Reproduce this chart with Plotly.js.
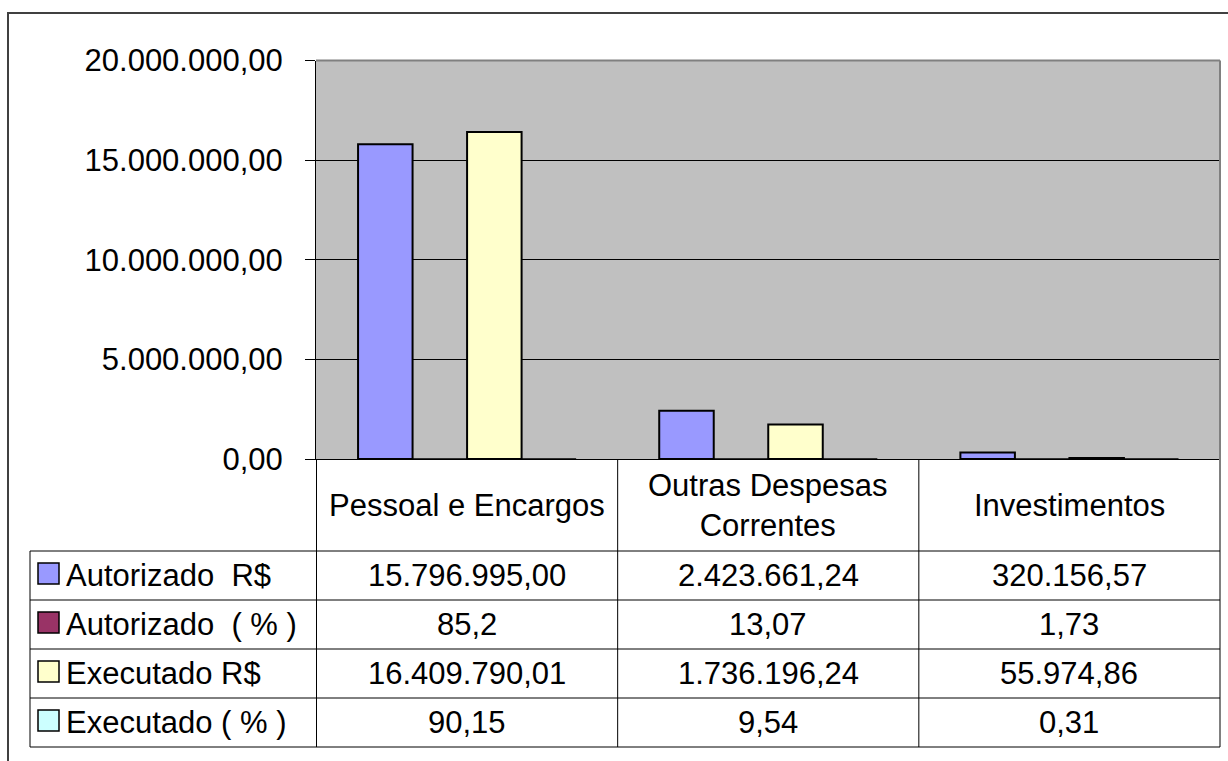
<!DOCTYPE html>
<html><head><meta charset="utf-8">
<script src="https://cdn.plot.ly/plotly-3.0.1.min.js"></script>
<style>html,body{margin:0;padding:0;background:#fff;overflow:hidden}</style>
</head><body><div id="chart" style="width:1228px;height:761px"></div>
<script>
// ---- data ----
const categories = ['Pessoal e Encargos', 'Outras Despesas Correntes', 'Investimentos'];
const headerLabels = ['Pessoal e Encargos', 'Outras Despesas<br>Correntes', 'Investimentos'];
const seriesNames = ['Autorizado\u00a0\u00a0R$', 'Autorizado\u00a0\u00a0(\u00a0%\u00a0)', 'Executado R$', 'Executado ( % )'];
const autorizadoRS = [15796995.00, 2423661.24, 320156.57];
const autorizadoPct = [85.2, 13.07, 1.73];
const executadoRS = [16409790.01, 1736196.24, 55974.86];
const executadoPct = [90.15, 9.54, 0.31];
const seriesColors = ['#9999FF', '#993366', '#FFFFCC', '#CCFFFF'];
const yTicks = [0, 5000000, 10000000, 15000000, 20000000];

// ---- helpers ----
const W = 1228, H = 761;
const px = x => x / W;
const py = y => 1 - y / H;
const FONT = 'Liberation Sans, Arial, sans-serif';
const FS = 31;

function fmtBR(v, dec, trim) {
  let s = v.toFixed(dec);
  let [ip, fp] = s.split('.');
  ip = ip.replace(/\B(?=(\d{3})+(?!\d))/g, '.');
  if (trim && fp) { fp = fp.replace(/0+$/, ''); }
  return fp ? ip + ',' + fp : ip;
}

const seriesValues = [autorizadoRS, autorizadoPct, executadoRS, executadoPct];
const seriesIsPct = [false, true, false, true];

const traces = seriesValues.map((vals, i) => ({
  type: 'bar',
  name: seriesNames[i],
  x: categories,
  y: vals,
  marker: { color: seriesColors[i], line: { color: '#000', width: seriesIsPct[i] ? 1 : 2 } },
  showlegend: false,
  hoverinfo: 'skip'
}));

// ---- table geometry (pixels) ----
const plotTop = 60.5, plotBottom = 459, plotLeft = 316, plotRight = 1220;
const tableLeft = 30;
const rowLines = [551, 600, 649, 698, 747];

const shapes = [];
// outer frame
shapes.push({ type: 'rect', xref: 'paper', yref: 'paper', x0: px(8), x1: px(1260), y0: py(13), y1: py(800),
  line: { color: '#404040', width: 2 }, layer: 'below' });
// plot area border top / right (grey)
shapes.push({ type: 'line', xref: 'paper', yref: 'paper', x0: px(plotLeft), x1: px(plotRight), y0: py(plotTop), y1: py(plotTop),
  line: { color: '#808080', width: 2 }, layer: 'above' });
shapes.push({ type: 'line', xref: 'paper', yref: 'paper', x0: px(plotRight), x1: px(plotRight), y0: py(plotTop), y1: py(rowLines[4]),
  line: { color: '#808080', width: 2 }, layer: 'above' });
// table horizontal lines
rowLines.forEach(y => shapes.push({ type: 'line', xref: 'paper', yref: 'paper', x0: px(tableLeft), x1: px(plotRight), y0: py(y), y1: py(y),
  line: { color: '#000', width: 1 }, layer: 'above' }));
// table left edge
shapes.push({ type: 'line', xref: 'paper', yref: 'paper', x0: px(tableLeft), x1: px(tableLeft), y0: py(rowLines[0]), y1: py(rowLines[4]),
  line: { color: '#000', width: 1 }, layer: 'above' });
// column separators at category boundaries
[-0.5, 0.5, 1.5].forEach(xv => shapes.push({ type: 'line', xref: 'x', yref: 'paper', x0: xv, x1: xv, y0: py(plotBottom), y1: py(rowLines[4]),
  line: { color: '#000', width: 1 }, layer: 'above' }));
// legend swatches
const rowCenters = rowLines.slice(0, 4).map((y, i) => (y + rowLines[i + 1]) / 2);
const sw = 21;
rowCenters.forEach((cy, i) => shapes.push({ type: 'rect', xref: 'paper', yref: 'paper',
  x0: px(38), x1: px(38 + sw), y0: py(cy - 2 - sw / 2), y1: py(cy - 2 + sw / 2),
  fillcolor: seriesColors[i], line: { color: '#000', width: 1.5 }, layer: 'above' }));

const annotations = [];
// header cells
headerLabels.forEach((lab, j) => annotations.push({ xref: 'x', yref: 'paper', x: categories[j], y: py((plotBottom + rowLines[0]) / 2),
  text: lab, showarrow: false, xanchor: 'center', yanchor: 'middle', font: { family: FONT, size: FS, color: '#000' } }));
// row labels + values
seriesValues.forEach((vals, i) => {
  annotations.push({ xref: 'paper', yref: 'paper', x: px(64), y: py(rowCenters[i]), text: seriesNames[i], showarrow: false,
    xanchor: 'left', yanchor: 'middle', font: { family: FONT, size: FS, color: '#000' } });
  vals.forEach((v, j) => annotations.push({ xref: 'x', yref: 'paper', x: categories[j], y: py(rowCenters[i]),
    text: seriesIsPct[i] ? fmtBR(v, 2, true) : fmtBR(v, 2, false), showarrow: false, xanchor: 'center', yanchor: 'middle',
    font: { family: FONT, size: FS, color: '#000' } }));
});

const layout = {
  width: W, height: H,
  margin: { l: 0, r: 0, t: 0, b: 0 },
  paper_bgcolor: '#fff', plot_bgcolor: '#C0C0C0',
  separators: ',.',
  barmode: 'group', bargap: 0.276, bargroupgap: 0,
  showlegend: false,
  font: { family: FONT, size: FS, color: '#000' },
  xaxis: { domain: [px(plotLeft), px(plotRight)], type: 'category', showticklabels: false, ticks: '', showgrid: false,
    showline: true, linecolor: '#000', linewidth: 1, zeroline: false, fixedrange: true },
  yaxis: { domain: [py(plotBottom), py(plotTop)], range: [0, 20000000], tickvals: yTicks, tickformat: ',.2f',
    ticks: 'outside', ticklen: 10, tickcolor: '#000', tickwidth: 1, ticklabelstandoff: 16,
    showgrid: true, gridcolor: '#000', gridwidth: 1, showline: true, linecolor: '#000', linewidth: 1,
    zeroline: false, tickfont: { family: FONT, size: FS, color: '#000' }, fixedrange: true },
  shapes: shapes,
  annotations: annotations
};

Plotly.newPlot('chart', traces, layout, { displayModeBar: false, staticPlot: true });
</script>
</body></html>
